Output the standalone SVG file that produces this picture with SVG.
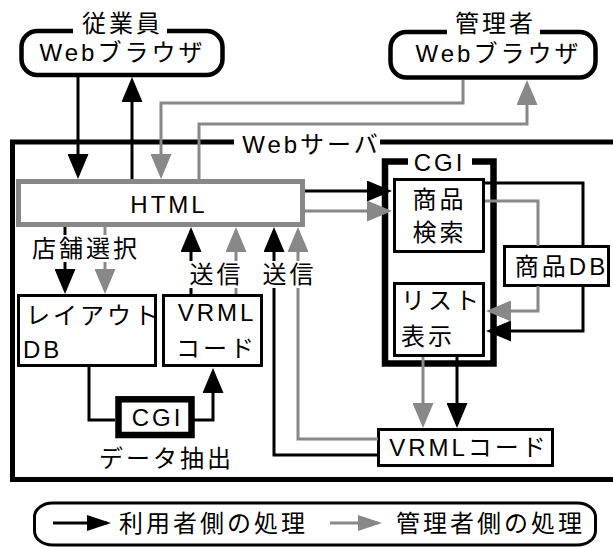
<svg xmlns="http://www.w3.org/2000/svg" width="613" height="547" viewBox="0 0 613 547">
<defs>
<style>
.k{stroke:#000;stroke-width:3;fill:none}
.g{stroke:#888;stroke-width:3;fill:none}
.box{fill:#fff;stroke:#000;stroke-width:3}
.t{font-family:"Liberation Sans","Noto Sans CJK JP",sans-serif;font-size:24px;letter-spacing:3px;fill:#000}
.m{text-anchor:middle}
.mask{fill:#fff;stroke:none}
</style>
<marker id="ab" viewBox="0 0 25 21" refX="21" refY="10.5" markerWidth="25" markerHeight="21" orient="auto" markerUnits="userSpaceOnUse"><path d="M0,0 L25,10.5 L0,21 Z" fill="#000"/></marker>
<marker id="ag" viewBox="0 0 25 21" refX="21" refY="10.5" markerWidth="25" markerHeight="21" orient="auto" markerUnits="userSpaceOnUse"><path d="M0,0 L25,10.5 L0,21 Z" fill="#888"/></marker>
<marker id="lb" viewBox="0 0 24 16" refX="20" refY="8" markerWidth="24" markerHeight="16" orient="auto" markerUnits="userSpaceOnUse"><path d="M0,0 L24,8 L0,16 Z" fill="#000"/></marker>
<marker id="lg" viewBox="0 0 24 16" refX="20" refY="8" markerWidth="24" markerHeight="16" orient="auto" markerUnits="userSpaceOnUse"><path d="M0,0 L24,8 L0,16 Z" fill="#888"/></marker>
</defs>
<rect width="613" height="547" fill="#fff"/>

<g id="webserver">
<rect x="12.5" y="142" width="620" height="337.5" fill="none" stroke="#000" stroke-width="5"/>
<rect class="mask" x="234" y="128" width="146" height="28"/>
<text class="t m" x="311.5" y="153">Webサーバ</text>
</g>

<g id="cgi-main">
<rect x="385" y="161.5" width="108.5" height="202" fill="none" stroke="#000" stroke-width="6.5"/>
<rect class="mask" x="408" y="150" width="64" height="24"/>
<text class="t m" x="439.5" y="170.5">CGI</text>
</g>

<g id="employee-browser">
<rect x="21.5" y="31" width="201" height="44" rx="16" fill="#fff" stroke="#000" stroke-width="4.5"/>
<rect class="mask" x="73" y="12" width="94" height="24"/>
<text class="t m" x="122.5" y="32">従業員</text>
<text class="t m" x="122.5" y="61">Webブラウザ</text>
</g>

<g id="admin-browser">
<rect x="390.5" y="32" width="205" height="45.5" rx="16" fill="#fff" stroke="#000" stroke-width="4.5"/>
<rect class="mask" x="447" y="12" width="93" height="24"/>
<text class="t m" x="495.5" y="32">管理者</text>
<text class="t m" x="498.5" y="62">Webブラウザ</text>
</g>

<g id="html">
<rect x="18.5" y="181.5" width="284" height="43" fill="#fff" stroke="#888" stroke-width="5"/>
<text class="t m" x="169" y="212.5">HTML</text>
</g>

<g id="search">
<rect class="box" x="394.5" y="179.5" width="89" height="72"/>
<text class="t m" x="439.5" y="207.5">商品</text>
<text class="t m" x="439.5" y="241">検索</text>
</g>

<g id="list">
<rect class="box" x="394.5" y="283.5" width="89" height="72"/>
<text class="t" x="401" y="308.5">リスト</text>
<text class="t" x="401" y="344.5">表示</text>
</g>

<g id="productdb">
<rect class="box" x="504.5" y="246.5" width="104" height="39"/>
<text class="t m" x="561.5" y="274.5">商品DB</text>
</g>

<g id="vrml-bottom">
<rect class="box" x="378.5" y="429.5" width="174" height="36"/>
<text class="t m" x="469" y="455.5">VRMLコード</text>
</g>

<g id="layoutdb">
<rect class="box" x="18.5" y="295.5" width="137" height="70"/>
<text class="t" x="26" y="323.5">レイアウト</text>
<text class="t" x="23" y="358">DB</text>
</g>

<g id="vrml-upper">
<rect class="box" x="163.5" y="295.5" width="98" height="70"/>
<text class="t m" x="217" y="321">VRML</text>
<text class="t m" x="216.5" y="356.5">コード</text>
</g>

<g id="cgi-extract">
<rect x="118.5" y="399.3" width="73" height="35.7" fill="#fff" stroke="#000" stroke-width="6.5"/>
<text class="t m" x="157.5" y="426">CGI</text>
<text class="t m" x="166.5" y="466.5">データ抽出</text>
</g>

<g id="connectors">
<path class="k" d="M78,77 V175" marker-end="url(#ab)"/>
<path class="k" d="M132,179 V81" marker-end="url(#ab)"/>
<path class="g" d="M463,80 V103 H161 V175" marker-end="url(#ag)"/>
<path class="g" d="M199,179 V124 H527 V84" marker-end="url(#ag)"/>
<path class="k" d="M305,191 H388" marker-end="url(#ab)"/>
<path class="g" d="M305,211 H388" marker-end="url(#ag)"/>
<path class="k" d="M485,183 H583 V246"/>
<path class="k" d="M583,286 V331 H490" marker-end="url(#ab)"/>
<path class="g" d="M485,201 H538 V246"/>
<path class="g" d="M538,286 V311 H490" marker-end="url(#ag)"/>
<path class="g" d="M423,357 V424" marker-end="url(#ag)"/>
<path class="k" d="M457,357 V424" marker-end="url(#ab)"/>
<path class="k" d="M378,455 H274 V231" marker-end="url(#ab)"/>
<path class="g" d="M378,439 H298 V231" marker-end="url(#ag)"/>
<path class="k" d="M191,294 V231" marker-end="url(#ab)"/>
<path class="g" d="M236,294 V231" marker-end="url(#ag)"/>
<path class="k" d="M65,227 V290" marker-end="url(#ab)"/>
<path class="g" d="M105,227 V290" marker-end="url(#ag)"/>
<path class="k" d="M89,366 V420 H115"/>
<path class="k" d="M192,420 H213 V372" marker-end="url(#ab)"/>
</g>

<g id="connector-labels">
<rect class="mask" x="30" y="235" width="110" height="27"/>
<text class="t m" x="86" y="257">店舗選択</text>
<rect class="mask" x="186" y="261" width="58" height="27"/>
<text class="t m" x="216.5" y="282.5">送信</text>
<rect class="mask" x="259" y="261" width="58" height="27"/>
<text class="t m" x="289.5" y="282.5">送信</text>
</g>

<g id="legend">
<rect x="34.5" y="503" width="561" height="42" rx="18" ry="14" fill="none" stroke="#000" stroke-width="3"/>
<path class="k" d="M53,523 H107" marker-end="url(#lb)"/>
<text class="t" x="119" y="531.5">利用者側の処理</text>
<path class="g" d="M330,523 H378" marker-end="url(#lg)"/>
<text class="t" x="396" y="531.5">管理者側の処理</text>
</g>
</svg>
